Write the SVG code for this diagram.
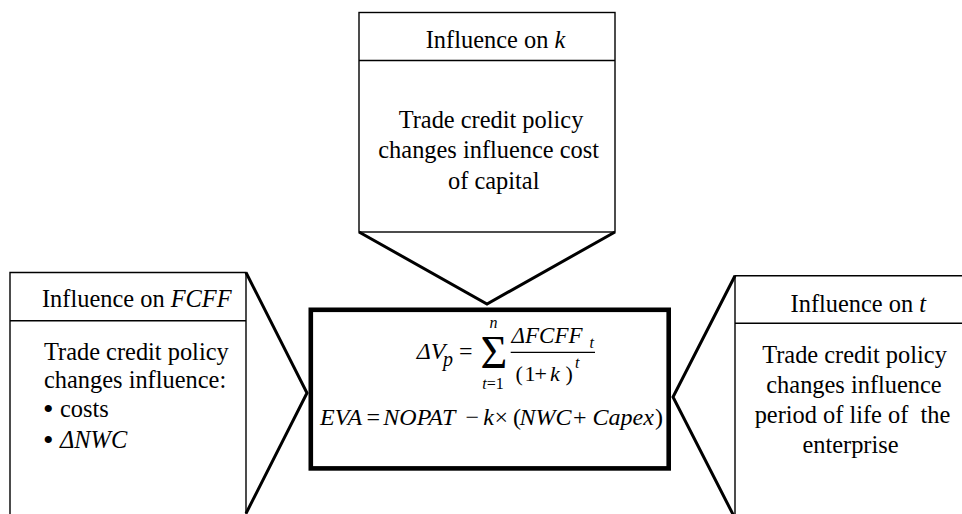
<svg xmlns="http://www.w3.org/2000/svg" width="962" height="514" viewBox="0 0 962 514">
<style>
.box{fill:none;stroke:#000;stroke-width:1.4}
.ptr{fill:none;stroke:#000;stroke-width:3;stroke-linejoin:miter;stroke-miterlimit:10}
.main{fill:none;stroke:#000;stroke-width:4.6}
text{font-family:'Liberation Serif','DejaVu Serif','Noto Serif',serif;fill:#000}
.t{font-size:24.4px}
.m{font-size:24px}
.s{font-size:16px}
.b{font-size:30px}
.i{font-style:italic}
.c{text-anchor:middle}
</style>
<rect width="962" height="514" fill="#fff"/>
<g id="node-k">
  <rect class="box" x="359" y="12.5" width="256" height="219.5"/>
  <line class="box" x1="359" y1="60.5" x2="615" y2="60.5"/>
  <text class="t c" x="495.5" y="48">Influence on <tspan class="i">k</tspan></text>
  <text class="t c" x="491" y="127.5">Trade credit policy</text>
  <text class="t c" x="488.7" y="158">changes influence cost</text>
  <text class="t c" x="493.7" y="189">of capital</text>
</g>
<g id="node-fcff">
  <path class="box" d="M10,520 V272.5 H246 V520"/>
  <line class="box" x1="10" y1="320.7" x2="246" y2="320.7"/>
  <text class="t" x="42" y="307.3">Influence on <tspan class="i">FCFF</tspan></text>
  <text class="t" x="44" y="359.5">Trade credit policy</text>
  <text class="t" x="44" y="388">changes influence:</text>
  <text class="b" x="43" y="419">•</text>
  <text class="t" x="60" y="417">costs</text>
  <text class="b" x="43" y="449.5">•</text>
  <text class="t i" x="60" y="447.5">ΔNWC</text>
</g>
<g id="node-t">
  <path class="box" d="M735,520 V275.7 H964"/>
  <line class="box" x1="735" y1="323.3" x2="964" y2="323.3"/>
  <text class="t c" x="858.3" y="311.7">Influence on <tspan class="i">t</tspan></text>
  <text class="t c" x="854.5" y="363.3">Trade credit policy</text>
  <text class="t c" x="854" y="393.3">changes influence</text>
  <text class="t c" x="852.5" y="422.5" xml:space="preserve">period of life of  the</text>
  <text class="t c" x="850.5" y="453.3">enterprise</text>
</g>
<g id="node-center">
  <rect class="main" x="310.8" y="309.8" width="357.9" height="158.6"/>
  <text class="m" y="359"><tspan class="i" x="416.7">ΔV</tspan><tspan class="i" x="443" y="366" style="font-size:20px">p</tspan><tspan x="459" y="359">=</tspan></text>
  <text class="c" x="494" y="367.5" style="font-size:46px">Σ</text>
  <text class="c s i" x="493.5" y="328">n</text>
  <text class="c s" x="493" y="389"><tspan class="i">t</tspan>=1</text>
  <text class="i" x="511.5" y="343.3" style="font-size:23px">ΔFCFF</text>
  <text class="s i" x="589.5" y="347.5">t</text>
  <line x1="510.7" y1="352.3" x2="595" y2="352.3" stroke="#000" stroke-width="1.2"/>
  <text y="380.5" style="font-size:22px"><tspan x="515.5">(</tspan><tspan x="524.5">1</tspan><tspan x="534.5">+</tspan><tspan class="i" x="550">k</tspan><tspan x="565.5">)</tspan></text>
  <text class="s i" x="575" y="368">t</text>
  <text class="m" y="424.5"><tspan class="i" x="320">EVA</tspan><tspan x="366.5">=</tspan><tspan class="i" x="383.3">NOPAT</tspan><tspan x="465.5">−</tspan><tspan class="i" x="483.3">k</tspan><tspan x="494.5">×</tspan><tspan x="513">(</tspan><tspan class="i" x="519.5">NWC</tspan><tspan x="573">+</tspan><tspan class="i" x="592.5">Capex</tspan><tspan x="655">)</tspan></text>
</g>
<g id="connectors">
  <polyline class="ptr" points="359,232 487,304 615,232"/>
  <polyline class="ptr" points="246,272.5 307,393 246,513.5"/>
  <polyline class="ptr" points="735,275.7 673,397 735,518.3"/>
</g>
</svg>
